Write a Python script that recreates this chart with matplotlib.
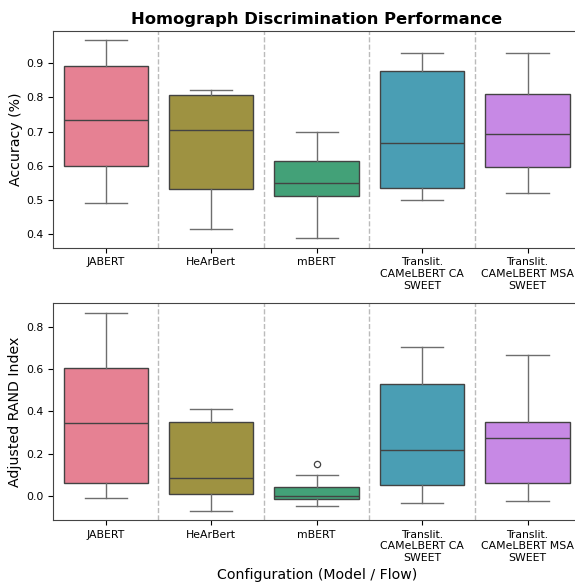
import colorsys
import numpy as np
import matplotlib
matplotlib.use("Agg")
import matplotlib.pyplot as plt
import seaborn as sns

models = ["JABERT", "HeArBert", "mBERT",
          "Translit.\nCAMeLBERT CA\nSWEET", "Translit.\nCAMeLBERT MSA\nSWEET"]

# accuracy box stats
acc_whislo = [0.492, 0.417, 0.389, 0.500, 0.521]
acc_q1 = [0.601, 0.532, 0.511, 0.535, 0.598]
acc_med = [0.733, 0.704, 0.551, 0.666, 0.692]
acc_q3 = [0.891, 0.806, 0.613, 0.876, 0.810]
acc_whishi = [0.967, 0.823, 0.699, 0.929, 0.929]
acc_fliers = [[], [], [], [], []]

# adjusted rand index box stats
ari_whislo = [-0.011, -0.071, -0.047, -0.033, -0.027]
ari_q1 = [0.060, 0.009, -0.016, 0.051, 0.059]
ari_med = [0.345, 0.086, -0.003, 0.215, 0.272]
ari_q3 = [0.605, 0.349, 0.041, 0.529, 0.349]
ari_whishi = [0.866, 0.410, 0.100, 0.706, 0.670]
ari_fliers = [[], [], [0.152], [], []]

colors = sns.color_palette("husl", len(models), desat=0.75)
lum = min(colorsys.rgb_to_hls(*c)[1] for c in colors) * 0.6
gray = (lum, lum, lum)
wgray = "#6e6e6e"


def make_stats(lo, q1, med, q3, hi, fl):
    out = []
    for i in range(len(lo)):
        out.append(dict(whislo=lo[i], q1=q1[i], med=med[i], q3=q3[i],
                        whishi=hi[i], fliers=fl[i]))
    return out


def draw(ax, stats, ylabel):
    pos = np.arange(len(models))
    b = ax.bxp(stats, positions=pos, widths=0.8, patch_artist=True,
               boxprops=dict(linewidth=1.0, edgecolor=gray),
               whiskerprops=dict(color=wgray, linewidth=1.0),
               capprops=dict(color=wgray, linewidth=1.0),
               medianprops=dict(color=gray, linewidth=1.0),
               flierprops=dict(marker="o", markerfacecolor="none",
                               markeredgecolor=gray, markersize=4.5,
                               markeredgewidth=0.9),
               capwidths=0.4)
    for patch, c in zip(b["boxes"], colors):
        patch.set_facecolor(c)
    for x in pos[:-1] + 0.5:
        ax.axvline(x, color="#bbbbbb", linestyle="--", linewidth=1.0, zorder=0)
    ax.set_xlim(-0.5, len(models) - 0.5)
    ax.set_xticks(pos)
    ax.set_xticklabels(models, fontsize=7.8)
    ax.tick_params(axis="y", labelsize=7.8)
    ax.set_ylabel(ylabel, fontsize=10.2, labelpad=2.5)
    for s in ax.spines.values():
        s.set_color("#444444")


fig = plt.figure(figsize=(5.75, 5.82), dpi=100)
ax1 = fig.add_axes([0.0922, 0.5744, 0.917, 0.3729])
ax2 = fig.add_axes([0.0922, 0.1065, 0.917, 0.3723])

draw(ax1, make_stats(acc_whislo, acc_q1, acc_med, acc_q3, acc_whishi, acc_fliers),
     "Accuracy (%)")
ax1.set_ylim(0.361, 0.995)
ax1.set_yticks([0.4, 0.5, 0.6, 0.7, 0.8, 0.9])
ax1.set_title("Homograph Discrimination Performance", fontsize=11.8,
              fontweight="bold", pad=5)

draw(ax2, make_stats(ari_whislo, ari_q1, ari_med, ari_q3, ari_whishi, ari_fliers),
     "Adjusted RAND Index")
ax2.set_ylim(-0.116, 0.914)
ax2.set_yticks([0.0, 0.2, 0.4, 0.6, 0.8])
ax2.set_xlabel("Configuration (Model / Flow)", fontsize=10.2, labelpad=3.5)

fig.savefig("out.png", dpi=100)
